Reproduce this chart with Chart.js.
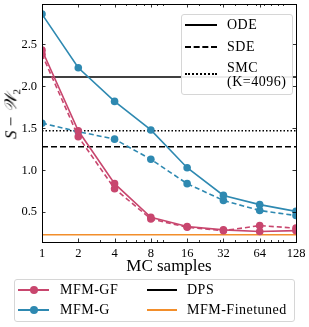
<!DOCTYPE html>
<html>
<head>
<meta charset="utf-8">
<script src="https://cdn.jsdelivr.net/npm/chart.js@4.4.1/dist/chart.umd.min.js"></script>
<style>
  html, body { margin: 0; padding: 0; background: #fff; }
  #wrap { position: relative; width: 309px; height: 327px; font-family: 'Liberation Serif', 'DejaVu Serif', serif; color: #000; }
  #wrap canvas { position: absolute; left: 0; top: 0; }
  .box { position: absolute; border: 1px solid #d6d6d6; border-radius: 3px; background: rgba(255,255,255,0.9); box-sizing: border-box; }
  .item { position: absolute; font-size: 14px; letter-spacing: 0.5px; line-height: 14px; white-space: nowrap; }
  .swatch { position: absolute; height: 0; }
  .dot { position: absolute; width: 8px; height: 8px; border-radius: 50%; }
  #ytitle { position: absolute; left: 12px; top: 114px; transform: translate(-50%, -50%) rotate(-90deg); font-size: 17px; white-space: nowrap; }
  #ytitle sub { font-size: 11px; }
</style>
</head>
<body>
<div id="wrap">
  <canvas id="chart" width="309" height="327"></canvas>
  <div id="ytitle"><i>S</i> &minus; <i>&#x1D4B2;</i><sub>2</sub></div>

  <div class="box" style="left:181px; top:14px; width:112px; height:81px;"></div>
  <div class="swatch" style="left:185px; top:24px; width:32px; border-top:2px solid #000;"></div>
  <div class="item" style="left:227px; top:18px;">ODE</div>
  <div class="swatch" style="left:185px; top:46px; width:32px; border-top:2px dashed #000;"></div>
  <div class="item" style="left:227px; top:40px;">SDE</div>
  <div class="swatch" style="left:185px; top:73px; width:32px; border-top:2px dotted #000;"></div>
  <div class="item" style="left:227px; top:61px;">SMC</div>
  <div class="item" style="left:227px; top:75px;">(K=4096)</div>

  <div class="box" style="left:14px; top:279px; width:281px; height:43px;"></div>
  <div class="swatch" style="left:18px; top:289px; width:31px; border-top:2px solid #c8466e;"></div>
  <div class="dot" style="left:30px; top:286px; background:#c8466e;"></div>
  <div class="item" style="left:60px; top:283px;">MFM-GF</div>
  <div class="swatch" style="left:18px; top:309px; width:31px; border-top:2px solid #2e89b1;"></div>
  <div class="dot" style="left:30px; top:306px; background:#2e89b1;"></div>
  <div class="item" style="left:60px; top:303px;">MFM-G</div>
  <div class="swatch" style="left:147px; top:289px; width:30px; border-top:2px solid #000;"></div>
  <div class="item" style="left:187px; top:283px;">DPS</div>
  <div class="swatch" style="left:147px; top:309px; width:30px; border-top:2px solid #f28e2b;"></div>
  <div class="item" style="left:187px; top:303px;">MFM-Finetuned</div>
</div>
<script>
// --- data ---
const mcSamples = [1, 2, 4, 8, 16, 32, 64, 128];
const gfOde = [2.43, 1.47, 0.84, 0.44, 0.33, 0.29, 0.27, 0.28];
const gfSde = [2.38, 1.40, 0.78, 0.42, 0.32, 0.28, 0.34, 0.31];
const gOde = [2.86, 2.22, 1.82, 1.48, 1.03, 0.70, 0.59, 0.51];
const gSde = [1.56, 1.46, 1.37, 1.13, 0.84, 0.64, 0.52, 0.46];
const dpsOde = 2.11;
const dpsSde = 1.28;
const dpsSmc = 1.47;
const finetuned = 0.23;
const yTicks = [0.5, 1.0, 1.5, 2.0, 2.5];
const xMinor = [3, 5, 6, 7, 9, 10, 20, 30, 40, 50, 60, 70, 80, 90, 100];

const PINK = '#c8466e';
const BLUE = '#2e89b1';
const ORANGE = '#f28e2b';

const pts = (ys) => mcSamples.map((x, i) => ({ x, y: ys[i] }));
const flat = (y) => [{ x: 1, y }, { x: 128, y }];

const series = (data, color, dash) => ({
    data: pts(data),
    borderColor: color,
    backgroundColor: color,
    borderWidth: 1.6,
    borderDash: dash || [],
    pointRadius: 3.8,
    pointBorderWidth: 0,
    pointBackgroundColor: color,
    tension: 0
});
const hline = (y, color, dash) => ({
    data: flat(y),
    borderColor: color,
    borderWidth: 1.5,
    borderDash: dash || [],
    pointRadius: 0,
    tension: 0
});

// inward ticks on all four sides + spines, matplotlib style
const frameTicks = {
    id: 'frameTicks',
    afterDatasetsDraw(chart) {
        const { ctx, chartArea: a, scales } = chart;
        const xs = scales.x, ys = scales.y;
        ctx.save();
        ctx.strokeStyle = '#000';
        ctx.lineWidth = 0.8;
        ctx.beginPath();
        mcSamples.forEach(v => {
            const px = Math.round(xs.getPixelForValue(v)) + 0.5;
            ctx.moveTo(px, a.bottom); ctx.lineTo(px, a.bottom - 3.5);
            ctx.moveTo(px, a.top); ctx.lineTo(px, a.top + 3.5);
        });
        xMinor.forEach(v => {
            const px = Math.round(xs.getPixelForValue(v)) + 0.5;
            ctx.moveTo(px, a.bottom); ctx.lineTo(px, a.bottom - 2);
            ctx.moveTo(px, a.top); ctx.lineTo(px, a.top + 2);
        });
        yTicks.forEach(v => {
            const py = Math.round(ys.getPixelForValue(v)) + 0.5;
            ctx.moveTo(a.left, py); ctx.lineTo(a.left + 3.5, py);
            ctx.moveTo(a.right, py); ctx.lineTo(a.right - 3.5, py);
        });
        ctx.stroke();
        ctx.lineWidth = 1;
        ctx.strokeRect(Math.round(a.left) + 0.5, Math.round(a.top) + 0.5,
            Math.round(a.right - a.left), Math.round(a.bottom - a.top));
        ctx.restore();
    }
};

new Chart(document.getElementById('chart'), {
    type: 'line',
    data: {
        datasets: [
            series(gfOde, PINK),
            series(gfSde, PINK, [5, 3]),
            series(gOde, BLUE),
            series(gSde, BLUE, [5, 3]),
            hline(dpsOde, '#000'),
            hline(dpsSde, '#000', [6, 3]),
            hline(dpsSmc, '#000', [1.5, 2]),
            hline(finetuned, ORANGE)
        ]
    },
    options: {
        responsive: false,
        animation: false,
        events: [],
        layout: { padding: { left: 0, top: 4, right: 13, bottom: 50 } },
        plugins: { legend: { display: false }, tooltip: { enabled: false } },
        scales: {
            x: {
                type: 'logarithmic',
                min: 1,
                max: 128,
                afterBuildTicks: (s) => { s.ticks = mcSamples.map(v => ({ value: v })); },
                afterFit: (s) => { s.height = 35; s.paddingLeft = 0; s.paddingRight = 0; },
                grid: { display: false, drawTicks: false },
                border: { display: false },
                ticks: {
                    color: '#000',
                    font: { family: "'Liberation Serif', serif", size: 12.5 },
                    padding: 4,
                    maxRotation: 0,
                    autoSkip: false,
                    callback: (v) => String(v)
                },
                title: {
                    display: true,
                    text: 'MC samples',
                    color: '#000',
                    font: { family: "'Liberation Serif', serif", size: 17 },
                    padding: { top: 0, bottom: 0 }
                }
            },
            y: {
                type: 'linear',
                min: 0.145,
                max: 2.98,
                afterBuildTicks: (s) => { s.ticks = yTicks.map(v => ({ value: v })); },
                afterFit: (s) => { s.width = 42; s.paddingTop = 0; s.paddingBottom = 0; },
                grid: { display: false, drawTicks: false },
                border: { display: false },
                ticks: {
                    color: '#000',
                    font: { family: "'Liberation Serif', serif", size: 12.5 },
                    padding: 5,
                    callback: (v) => Number(v).toFixed(1)
                }
            }
        }
    },
    plugins: [frameTicks]
});
</script>
</body>
</html>
